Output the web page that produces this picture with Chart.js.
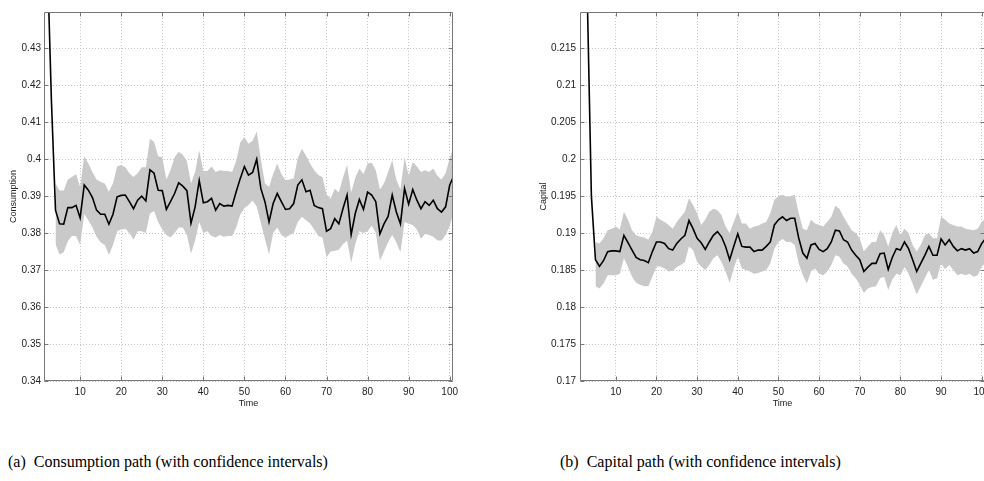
<!DOCTYPE html>
<html>
<head>
<meta charset="utf-8">
<script src="https://cdn.jsdelivr.net/npm/chart.js@4.4.1/dist/chart.umd.min.js"></script>
<style>
html, body { margin:0; padding:0; background:#fff; width:984px; height:481px; overflow:hidden; }
.box { position:absolute; top:0; height:420px; }
.cap { position:absolute; top:453px; font-family:"Liberation Serif","Times New Roman",serif; font-size:16px; line-height:18px; color:#000; white-space:nowrap; }
</style>
</head>
<body>
<div class="box" style="left:0;width:470px"><canvas id="consumo" width="470" height="420"></canvas></div>
<div class="box" style="left:536px;width:460px"><canvas id="capital" width="460" height="420"></canvas></div>
<div class="cap" style="left:8px">(a)&nbsp;&nbsp;Consumption path (with confidence intervals)</div>
<div class="cap" style="left:560px">(b)&nbsp;&nbsp;Capital path (with confidence intervals)</div>

<script>
// tiempo: el camino empieza en t=2, las bandas un poco despues
const lineStart = 2;
const consumptionBandStart = 4;
const capitalBandStart = 5;
const timeTicks = [10, 20, 30, 40, 50, 60, 70, 80, 90, 100];

const consumptionTicks = [0.34, 0.35, 0.36, 0.37, 0.38, 0.39, 0.40, 0.41, 0.42, 0.43];
const capitalTicks = [0.17, 0.175, 0.18, 0.185, 0.19, 0.195, 0.20, 0.205, 0.21, 0.215];

// t = 2..101
const consumption = [
0.455, 0.416, 0.3862, 0.3825, 0.3824, 0.3869, 0.3869, 0.3875, 0.3841,
0.393, 0.3916, 0.3896, 0.3862, 0.3851, 0.3851, 0.3824, 0.3851, 0.3898, 0.3902,
0.3903, 0.3885, 0.3866, 0.3889, 0.39, 0.3887, 0.3971, 0.3962, 0.3916, 0.3915,
0.3864, 0.3885, 0.3907, 0.3936, 0.3927, 0.3915, 0.3827, 0.3871, 0.3942, 0.3882,
0.3885, 0.3894, 0.3862, 0.388, 0.3873, 0.3875, 0.3873, 0.3912, 0.3948, 0.398,
0.3957, 0.3964, 0.40, 0.3921, 0.3885, 0.383, 0.388, 0.3907, 0.3885, 0.3864,
0.3866, 0.388, 0.393, 0.3944, 0.3912, 0.3916, 0.3875, 0.3869, 0.3866, 0.3805,
0.3812, 0.3839, 0.3825, 0.3866, 0.3903, 0.3796, 0.3853, 0.3891, 0.3864, 0.3911,
0.3903, 0.3885, 0.3798, 0.3825, 0.3845, 0.3903, 0.3857, 0.3825, 0.3921, 0.3878,
0.3918, 0.3889, 0.3866, 0.3885, 0.3875, 0.3889, 0.3866, 0.3857, 0.3871, 0.393, 0.3955
];

// t = 4..101
const consumptionUpper = [
0.3935, 0.3915, 0.3915, 0.3945, 0.3952, 0.396, 0.3925,
0.4008, 0.3988, 0.3965, 0.3945, 0.3938, 0.3934, 0.3912, 0.3935, 0.398, 0.3984,
0.3978, 0.3962, 0.3952, 0.3962, 0.3978, 0.3978, 0.4055, 0.4047, 0.4008, 0.4005,
0.3945, 0.397, 0.4005, 0.402, 0.4012, 0.3995, 0.3934, 0.3965, 0.4024, 0.3968,
0.3968, 0.398, 0.3965, 0.397, 0.3968, 0.3968, 0.3965, 0.3995, 0.4045, 0.406,
0.4042, 0.405, 0.4075, 0.40, 0.3935, 0.3925, 0.396, 0.3988, 0.396, 0.3943,
0.3945, 0.3948, 0.4003, 0.4028, 0.401, 0.3988, 0.397, 0.3957, 0.3952, 0.3905,
0.3893, 0.392, 0.391, 0.395, 0.3985, 0.391, 0.395, 0.3975, 0.396, 0.3988,
0.399, 0.397, 0.3918, 0.3935, 0.3965, 0.3997, 0.3945, 0.3918, 0.4005, 0.3955,
0.3992, 0.398, 0.3965, 0.397, 0.3965, 0.3975, 0.3955, 0.3945, 0.3962, 0.4003, 0.4033
];
const consumptionLower = [
0.377, 0.3742, 0.3748, 0.3778, 0.3792, 0.3792, 0.3768,
0.3852, 0.3835, 0.3815, 0.379, 0.3775, 0.3768, 0.3741, 0.3768, 0.3805, 0.381,
0.3812, 0.38, 0.3782, 0.3805, 0.3805, 0.38, 0.3853, 0.386, 0.383, 0.381,
0.3795, 0.3788, 0.38, 0.3815, 0.3815, 0.3795, 0.3745, 0.378, 0.383, 0.38,
0.3805, 0.3792, 0.3788, 0.3795, 0.379, 0.3792, 0.3792, 0.3815, 0.385, 0.3868,
0.3876, 0.3888, 0.3872, 0.3828, 0.3785, 0.3742, 0.38, 0.3815, 0.3795, 0.3788,
0.3795, 0.38, 0.383, 0.3844, 0.3835, 0.3826, 0.381, 0.3792, 0.3788, 0.3735,
0.375, 0.3752, 0.3755, 0.377, 0.378, 0.372, 0.377, 0.3805, 0.38, 0.3805,
0.382, 0.38, 0.3725, 0.375, 0.3775, 0.3795, 0.3775, 0.3748, 0.383, 0.3825,
0.3822, 0.381, 0.3785, 0.3798, 0.3795, 0.379, 0.378, 0.378, 0.3795, 0.382, 0.3858
];

// t = 2..101
const capital = [
0.246, 0.2218, 0.195, 0.1864, 0.1855, 0.1863, 0.1875, 0.1876, 0.1876,
0.1875, 0.1897, 0.1887, 0.1877, 0.1867, 0.1864, 0.1863, 0.186, 0.1875, 0.1888,
0.1888, 0.1886, 0.1879, 0.1877, 0.1886, 0.1892, 0.1897, 0.1917, 0.1906, 0.1893,
0.1887, 0.1878, 0.1888, 0.1897, 0.1902, 0.1895, 0.1882, 0.1864, 0.1882, 0.1899,
0.1882, 0.1881, 0.1881, 0.1875, 0.1877, 0.1877, 0.1882, 0.1888, 0.1911, 0.1918,
0.1922, 0.1917, 0.192, 0.192, 0.1893, 0.1873, 0.1866, 0.1884, 0.1886, 0.1878,
0.1875, 0.1879, 0.1888, 0.1904, 0.1903, 0.1891, 0.1888, 0.1877, 0.187, 0.1864,
0.1848, 0.1854, 0.1859, 0.1859, 0.1872, 0.1873, 0.1851, 0.1867, 0.1879, 0.1877,
0.1888, 0.1879, 0.1864, 0.1848, 0.1859, 0.187, 0.1882, 0.187, 0.187, 0.1892,
0.1884, 0.1891, 0.1882, 0.1876, 0.1879, 0.1877, 0.1879, 0.1873, 0.1875, 0.1886, 0.1893
];

// t = 5..101
const capitalUpper = [
0.1888, 0.1886, 0.1893, 0.1904, 0.1906, 0.1909,
0.1905, 0.1929, 0.1918, 0.1904, 0.1897, 0.1895, 0.1894, 0.1891, 0.1902, 0.1922,
0.1918, 0.1915, 0.1911, 0.1906, 0.1915, 0.1922, 0.1929, 0.1947, 0.1938, 0.1927,
0.1911, 0.1918, 0.1929, 0.1933, 0.1931, 0.1924, 0.1909, 0.19, 0.1915, 0.1929,
0.1913, 0.1913, 0.1906, 0.1909, 0.191, 0.1913, 0.1915, 0.1927, 0.1945, 0.195,
0.1952, 0.1949, 0.195, 0.1952, 0.1927, 0.1906, 0.1904, 0.1918, 0.1913, 0.1911,
0.1909, 0.1915, 0.1922, 0.1937, 0.1933, 0.1922, 0.1913, 0.1904, 0.19, 0.1893,
0.1875, 0.1882, 0.1888, 0.1888, 0.1904, 0.1897, 0.1882, 0.19, 0.1911, 0.1897,
0.1906, 0.19, 0.1884, 0.1875, 0.1884, 0.1897, 0.19, 0.1893, 0.1893, 0.1922,
0.1918, 0.1913, 0.1911, 0.1909, 0.1909, 0.1906, 0.1905, 0.1904, 0.1906, 0.1915, 0.192
];
const capitalLower = [
0.1828, 0.1825, 0.1832, 0.1843, 0.1843, 0.1843,
0.1845, 0.1866, 0.1854, 0.1841, 0.1833, 0.183, 0.1828, 0.1828, 0.1841, 0.1855,
0.1855, 0.1852, 0.1848, 0.1849, 0.1854, 0.1857, 0.1861, 0.1882, 0.1877, 0.1861,
0.1855, 0.185, 0.1857, 0.1866, 0.187, 0.1861, 0.1848, 0.1833, 0.1852, 0.1868,
0.1852, 0.185, 0.1848, 0.1845, 0.1846, 0.1848, 0.185, 0.1859, 0.1879, 0.1888,
0.1892, 0.1888, 0.1888, 0.1884, 0.1859, 0.1843, 0.1832, 0.1848, 0.1852, 0.1845,
0.1843, 0.1848, 0.1857, 0.187, 0.1868, 0.1859, 0.1855, 0.1845, 0.1839, 0.183,
0.1819, 0.1825, 0.1827, 0.1828, 0.1839, 0.1841, 0.1823, 0.1837, 0.1845, 0.1843,
0.1854, 0.1845, 0.1832, 0.1817, 0.1828, 0.1839, 0.185, 0.1837, 0.1839, 0.1859,
0.1851, 0.1857, 0.185, 0.1843, 0.1845, 0.1843, 0.1845, 0.1841, 0.1843, 0.1855, 0.186
];

const axisColor = '#777777';
const gridColor = '#c4c4c4';
const bandColor = '#c9c9c9';

function toPoints(values, start){
  return values.map((v, i) => ({x: start + i, y: v}));
}

function etiqueta(v){
  return String(+v.toFixed(3));
}

// caja estilo matlab con ticks hacia dentro
const cajaMatlab = {
  id: 'cajaMatlab',
  afterDraw(chart){
    const ctx = chart.ctx;
    const a = chart.chartArea;
    const xs = chart.scales.x;
    const ys = chart.scales.y;
    const L = Math.round(a.left) + 0.5, R = Math.round(a.right) - 0.5;
    const T = Math.round(a.top) + 0.5, B = Math.round(a.bottom) - 0.5;
    ctx.save();
    ctx.strokeStyle = axisColor;
    ctx.lineWidth = 1;
    ctx.beginPath();
    ctx.rect(L, T, R - L, B - T);
    xs.ticks.forEach(t => {
      const px = Math.round(xs.getPixelForValue(t.value)) + 0.5;
      ctx.moveTo(px, B); ctx.lineTo(px, B - 4);
      ctx.moveTo(px, T); ctx.lineTo(px, T + 4);
    });
    ys.ticks.forEach(t => {
      const py = Math.round(ys.getPixelForValue(t.value)) + 0.5;
      ctx.moveTo(L, py); ctx.lineTo(L + 4, py);
      ctx.moveTo(R, py); ctx.lineTo(R - 4, py);
    });
    ctx.stroke();
    ctx.restore();
  }
};

function crearGrafico(id, cfg){
  const ctx = document.getElementById(id).getContext('2d');
  return new Chart(ctx, {
    type: 'line',
    data: {
      datasets: [
        {
          label: cfg.title,
          data: toPoints(cfg.line, lineStart),
          borderColor: '#000',
          borderWidth: 1.6,
          pointRadius: 0,
          fill: false,
          tension: 0,
          order: 0,
          clip: 0
        },
        {
          label: 'upper',
          data: toPoints(cfg.upper, cfg.bandStart),
          borderWidth: 0,
          borderColor: bandColor,
          backgroundColor: bandColor,
          pointRadius: 0,
          fill: '+1',
          order: 1,
          clip: 0
        },
        {
          label: 'lower',
          data: toPoints(cfg.lower, cfg.bandStart),
          borderWidth: 0,
          borderColor: bandColor,
          backgroundColor: bandColor,
          pointRadius: 0,
          fill: false,
          order: 2,
          clip: 0
        }
      ]
    },
    options: {
      responsive: false,
      animation: false,
      events: [],
      layout: { padding: { top: 12, right: cfg.padRight, left: 0, bottom: 0 } },
      plugins: { legend: { display: false }, tooltip: { enabled: false } },
      scales: {
        x: {
          type: 'linear',
          min: 1.2,
          max: 100.8,
          afterBuildTicks: s => { s.ticks = timeTicks.map(v => ({value: v})); },
          afterFit: s => { s.height = 39; },
          grid: { color: gridColor, drawTicks: false },
          border: { display: false, dash: [1, 2] },
          ticks: {
            color: '#222',
            padding: 5,
            maxRotation: 0,
            font: { family: '"Liberation Sans", Arial, sans-serif', size: 10 },
            callback: v => String(v)
          },
          title: {
            display: true,
            text: 'Time',
            color: '#222',
            font: { family: '"Liberation Sans", Arial, sans-serif', size: 9 },
            padding: { top: 0, bottom: 11 }
          }
        },
        y: {
          min: cfg.yMin,
          max: cfg.yMax,
          afterBuildTicks: s => { s.ticks = cfg.yTicks.map(v => ({value: v})); },
          afterFit: s => { s.width = 44; },
          grid: { color: gridColor, drawTicks: false },
          border: { display: false, dash: [1, 2] },
          ticks: {
            color: '#222',
            padding: cfg.tickPad,
            font: { family: '"Liberation Sans", Arial, sans-serif', size: 10 },
            callback: v => etiqueta(v)
          },
          title: {
            display: true,
            text: cfg.title,
            color: '#222',
            font: { family: '"Liberation Sans", Arial, sans-serif', size: 9 },
            padding: { top: cfg.titlePad, bottom: 0 }
          }
        }
      }
    },
    plugins: [cajaMatlab]
  });
}

crearGrafico('consumo', {
  title: 'Consumption',
  line: consumption,
  upper: consumptionUpper,
  lower: consumptionLower,
  bandStart: consumptionBandStart,
  yMin: 0.34,
  yMax: 0.4398,
  yTicks: consumptionTicks,
  padRight: 17,
  tickPad: 3,
  titlePad: 8
});

crearGrafico('capital', {
  title: 'Capital',
  line: capital,
  upper: capitalUpper,
  lower: capitalLower,
  bandStart: capitalBandStart,
  yMin: 0.17,
  yMax: 0.2199,
  yTicks: capitalTicks,
  padRight: 11,
  tickPad: 4,
  titlePad: 2
});
</script>
</body>
</html>
